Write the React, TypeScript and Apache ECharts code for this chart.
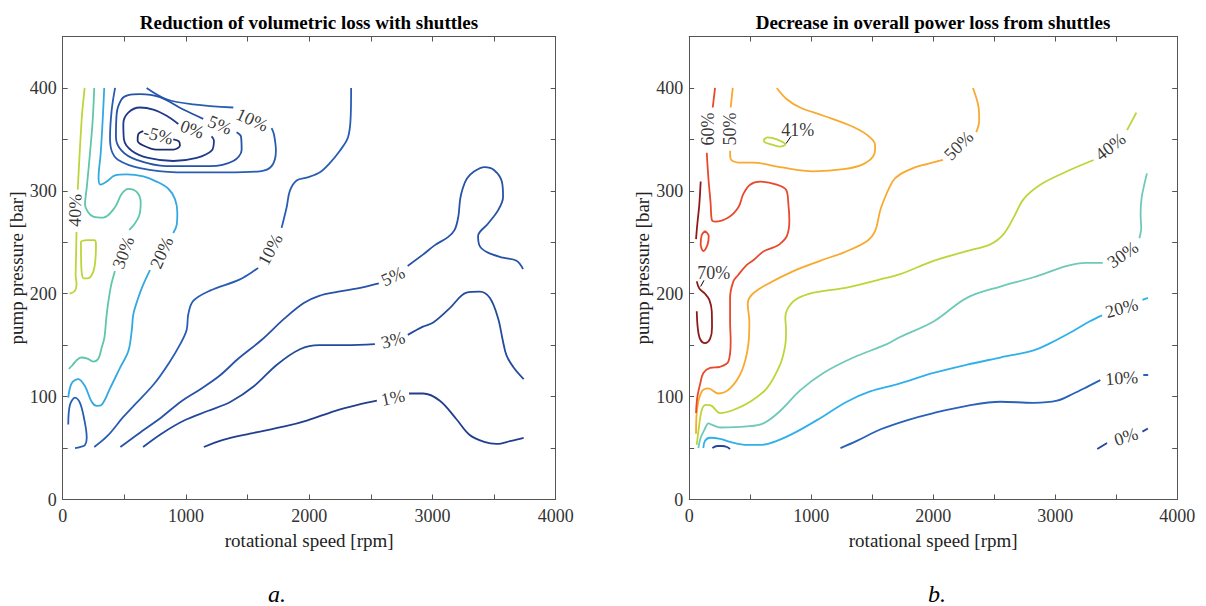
import React, { useEffect, useRef } from "react";
import * as echarts from "echarts";

type Pt = [number, number];
type Seg = Pt[];

const FONT = '"Liberation Serif", "Times New Roman", serif';

// ---------- axis ticks ----------
const xTicks = [0, 1000, 2000, 3000, 4000];
const yTicks = [0, 100, 200, 300, 400];

// ---------- left: reduction of volumetric loss ----------
const vol40: Seg[] = [
  [[178, 400], [167, 387], [156, 373], [137, 335], [122, 301]],
  [[112, 260], [108, 235], [105, 218], [112, 210], [100, 203], [55, 200]],
];
const vol40Loop: Seg[] = [
  [[148, 251], [200, 252], [255, 252], [270, 248], [268, 238], [258, 226], [235, 218], [200, 215], [170, 215], [155, 220], [149, 235], [148, 251]],
];
const vol30: Seg[] = [
  [[256, 400], [243, 368], [221, 336], [195, 303], [181, 287], [208, 279], [248, 275], [329, 274], [424, 284], [478, 297], [532, 302], [600, 299], [633, 289], [621, 276], [578, 267], [540, 262]],
  [[424, 222], [389, 206], [357, 180], [338, 157], [315, 147], [290, 137], [248, 134], [200, 137], [150, 138], [110, 135], [75, 130], [50, 127]],
];
const vol20: Seg[] = [
  [[337, 400], [324, 368], [308, 336], [291, 313], [308, 306], [357, 309], [424, 315], [519, 316], [654, 314], [762, 309], [857, 302], [911, 292], [930, 279], [925, 267], [897, 259]],
  [[708, 223], [654, 209], [613, 196], [573, 180], [560, 164], [532, 144], [465, 128], [384, 108], [316, 92], [276, 91], [235, 95], [181, 110], [127, 117], [73, 113], [45, 99]],
];
const vol10Small: Seg[] = [
  [[45, 73], [59, 92], [100, 99], [140, 94], [173, 79], [195, 60], [181, 53], [140, 51], [100, 50]],
];
const vol10: Seg[] = [
  [[256, 51], [365, 62], [490, 80], [583, 92], [739, 112], [864, 133], [958, 152], [1006, 165], [1019, 180], [1059, 193], [1195, 203], [1438, 214], [1586, 225]],
  [[1776, 264], [1817, 284], [1843, 300], [1898, 310], [1987, 313], [2087, 318], [2160, 326], [2249, 339], [2315, 352], [2337, 373], [2340, 400]],
];
const vol10Top: Seg[] = [
  [[425, 400], [397, 378], [384, 352], [397, 339], [451, 330], [627, 322], [925, 318], [1330, 318], [1600, 319], [1695, 324], [1730, 339], [1714, 355], [1695, 361]],
  [[1384, 381], [1059, 384], [843, 389], [681, 400]],
];
const vol5Loop: Seg[] = [
  [[1411, 357], [1446, 353], [1452, 340], [1384, 329], [1195, 324], [843, 324], [600, 330], [478, 339], [432, 352], [438, 375], [478, 389], [532, 393], [627, 394], [789, 391], [978, 379], [1140, 370]],
];
const vol0Loop: Seg[] = [
  [[1208, 353], [1227, 349], [1208, 339], [1087, 332], [897, 329], [694, 332], [560, 339], [497, 350], [492, 365], [532, 376], [627, 381], [735, 379], [843, 373], [938, 365]],
];
const volM5Loop: Seg[] = [
  [[897, 350], [943, 348], [951, 344], [897, 340], [762, 340], [654, 344], [608, 349], [613, 355], [654, 358]],
];
const vol5: Seg[] = [
  [[468, 51], [615, 64], [802, 80], [958, 95], [1114, 107], [1270, 120], [1426, 137], [1613, 155], [1800, 176], [1956, 191], [2081, 198], [2237, 202], [2424, 206], [2565, 210]],
  [[2799, 227], [2923, 238], [3017, 247], [3126, 255], [3180, 262], [3210, 275], [3225, 292], [3245, 302], [3280, 312], [3340, 319], [3423, 323], [3501, 320], [3563, 309], [3573, 294], [3532, 281], [3450, 268], [3370, 256], [3385, 246], [3450, 240], [3573, 235], [3682, 232], [3735, 224]],
];
const vol3: Seg[] = [
  [[652, 51], [802, 64], [989, 77], [1176, 86], [1363, 95], [1551, 110], [1738, 131], [1925, 146], [2081, 150], [2299, 150], [2533, 151]],
  [[2800, 160], [2923, 168], [3006, 172], [3141, 186], [3276, 201], [3384, 202], [3465, 196], [3533, 176], [3570, 155], [3601, 140], [3660, 128], [3740, 117]],
];
const vol1: Seg[] = [
  [[1145, 51], [1301, 58], [1519, 64], [1800, 71], [1987, 77], [2206, 86], [2393, 92], [2549, 96]],
  [[2810, 103], [2924, 103], [3060, 96], [3195, 78], [3300, 63], [3420, 56], [3520, 54], [3640, 57], [3740, 60]],
];

// ---------- right: decrease in overall power loss ----------
const pow0Small: Seg[] = [[[190, 50], [230, 52], [270, 52], [310, 51], [335, 49]]];
const pow0: Seg[] = [
  [[3345, 49], [3425, 55]],
  [[3715, 66], [3760, 69]],
];
const pow10: Seg[] = [
  [[1240, 50], [1374, 57], [1565, 68], [1784, 77], [2003, 84], [2276, 91], [2550, 95], [2823, 94], [3015, 96], [3151, 103], [3270, 110], [3370, 116]],
  [[3722, 121], [3762, 121]],
];
const pow20: Seg[] = [
  [[116, 50], [130, 57], [171, 60], [253, 59], [335, 56], [472, 53], [581, 53], [718, 57], [882, 66], [1073, 79], [1292, 95], [1483, 105], [1702, 112], [2003, 123], [2276, 131], [2550, 138], [2823, 145], [2960, 152], [3151, 164], [3280, 173], [3384, 179]],
  [[3715, 194], [3760, 196]],
];
const pow30: Seg[] = [
  [[75, 50], [94, 60], [130, 69], [157, 74], [198, 72], [253, 70], [472, 71], [608, 74], [745, 86], [909, 106], [1100, 123], [1346, 138], [1620, 151], [1729, 158], [2003, 173], [2276, 196], [2550, 207], [2823, 216], [3097, 227], [3250, 230], [3390, 230]],
  [[3690, 254], [3705, 264], [3700, 277], [3708, 293], [3730, 306], [3752, 317]],
];
const pow40: Seg[] = [
  [[62, 53], [75, 66], [103, 87], [138, 92], [185, 91], [253, 84], [362, 87], [499, 95], [636, 108], [745, 131], [786, 149], [794, 164], [788, 177], [805, 185], [868, 194], [1018, 201], [1292, 206], [1565, 214], [1729, 219], [2003, 232], [2276, 241.5], [2468, 248], [2577, 258], [2659, 274], [2741, 292], [2878, 306], [3097, 319], [3315, 330]],
  [[3589, 359], [3665, 376]],
];
const pow41: Seg[] = [[[608, 349], [641, 352], [718, 350], [788, 345], [745, 343], [677, 345], [622, 347], [608, 349]]];
const pow50: Seg[] = [
  [[56, 64], [66, 89], [103, 105], [157, 108], [239, 103], [335, 108], [431, 125], [485, 151], [493, 173], [480, 190], [513, 199], [636, 209], [854, 222], [1073, 232], [1264, 240], [1456, 251], [1524, 261], [1571, 283], [1666, 309], [1729, 316], [1855, 323], [1948, 326], [2080, 330]],
  [[2353, 357], [2377, 368], [2372, 381], [2326, 400]],
];
const pow50Top: Seg[] = [
  [[357, 400], [340, 381]],
  [[335, 339], [340, 331], [403, 327.5], [526, 327.5], [745, 323], [1018, 319], [1264, 321], [1428, 326], [1518, 336], [1524, 344], [1483, 352], [1346, 362], [1100, 373], [909, 381], [800, 389], [718, 400]],
];
const pow60: Seg[] = [
  [[212, 400], [193, 381]],
  [[144, 337], [157, 313], [176, 287], [185, 272], [212, 270], [321, 274], [403, 284], [444, 297], [499, 306], [581, 309], [718, 306], [794, 301], [813, 287], [821, 271], [800, 256], [740, 248], [690, 245], [608, 241], [530, 233], [472, 228], [400, 218], [362, 212], [335, 196], [335, 173], [340, 154], [321, 134], [253, 129], [171, 128], [116, 123], [89, 112], [66, 99], [56, 84]],
];
const pow60Loop: Seg[] = [[[130, 261], [160, 256], [151, 248], [116, 241.5], [94, 248], [103, 257], [130, 261]]];
const pow70: Seg[] = [
  [[94, 309], [83, 287], [66, 267], [56, 253]],
  [[62, 212], [83, 205], [130, 200], [165, 194], [185, 183], [187, 167], [171, 156], [130, 152], [89, 156], [70, 167], [62, 183]],
];
const leader41: Seg = [[794, 346], [835, 353]];
const leader70: Seg = [[94, 207], [121, 213]];

// contour labels: [x, y, text, rotation]
const volLabels: [number, number, string, number][] = [
  [100, 281, "40%", 88],
  [492, 240, "30%", 70],
  [803, 240, "20%", 66],
  [1683, 243, "10%", 62],
  [2680, 217, "5%", 25],
  [2680, 155, "3%", 15],
  [2680, 99, "1%", 12],
  [1538, 369, "10%", -24],
  [1276, 364, "5%", -22],
  [1051, 360, "0%", -20],
  [775, 354, "-5%", -15],
];
const powLabels: [number, number, string, number][] = [
  [157, 360, "60%", 90],
  [335, 360, "50%", 90],
  [890, 359, "41%", 0],
  [201, 220, "70%", 0],
  [2208, 344, "50%", 45],
  [3452, 343, "40%", 38],
  [3555, 238, "30%", 35],
  [3545, 186, "20%", 15],
  [3545, 118, "10%", 4],
  [3580, 61, "0%", 18],
];

const C = {
  m5: "#1d2d6e",
  n0: "#21398a",
  p1: "#223f8f",
  p3: "#244a9e",
  p5: "#2652a8",
  p10: "#285db3",
  p20: "#32a9e0",
  p30: "#5ec6aa",
  p40: "#bcd63a",
  p50: "#f8a92e",
  p60: "#e8492c",
  p70: "#8e1a1a",
  r0: "#25449b",
  r10: "#2860ba",
  r20: "#30b0ea",
  r30: "#6fc9b8",
};

const leftContours: { color: string; segs: Seg[] }[] = [
  { color: C.p40, segs: vol40 },
  { color: C.p40, segs: vol40Loop },
  { color: C.p30, segs: vol30 },
  { color: C.p20, segs: vol20 },
  { color: C.p10, segs: vol10Small },
  { color: C.p10, segs: vol10 },
  { color: C.p10, segs: vol10Top },
  { color: C.p5, segs: vol5Loop },
  { color: C.n0, segs: vol0Loop },
  { color: C.m5, segs: volM5Loop },
  { color: C.p5, segs: vol5 },
  { color: C.p3, segs: vol3 },
  { color: C.p1, segs: vol1 },
];
const rightContours: { color: string; segs: Seg[] }[] = [
  { color: C.r0, segs: pow0Small },
  { color: C.r0, segs: pow0 },
  { color: C.r10, segs: pow10 },
  { color: C.r20, segs: pow20 },
  { color: C.r30, segs: pow30 },
  { color: C.p40, segs: pow40 },
  { color: C.p40, segs: pow41 },
  { color: C.p50, segs: pow50 },
  { color: C.p50, segs: pow50Top },
  { color: C.p60, segs: pow60 },
  { color: C.p60, segs: pow60Loop },
  { color: C.p70, segs: pow70 },
];

function lineSeries(contours: { color: string; segs: Seg[] }[], gi: number) {
  const out: any[] = [];
  contours.forEach((c) =>
    c.segs.forEach((s) =>
      out.push({
        type: "line",
        xAxisIndex: gi * 2,
        yAxisIndex: gi * 2,
        data: s,
        smooth: s.length > 2 ? 0.35 : false,
        symbol: "none",
        silent: true,
        lineStyle: { color: c.color, width: 1.8 },
        z: 2,
      })
    )
  );
  return out;
}

function labelSeries(labels: [number, number, string, number][], gi: number) {
  return {
    type: "scatter",
    xAxisIndex: gi * 2,
    yAxisIndex: gi * 2,
    symbolSize: 1,
    itemStyle: { color: "rgba(0,0,0,0)" },
    silent: true,
    z: 5,
    data: labels.map(([x, y, t, r]) => ({
      value: [x, y],
      name: t,
      label: { rotate: r },
    })),
    label: {
      show: true,
      position: "inside",
      formatter: "{b}",
      fontFamily: FONT,
      fontSize: 18,
      color: "#000",
    },
  };
}

function axes(gi: number) {
  const axisLine = { show: true, onZero: false, lineStyle: { color: "#555", width: 1 } };
  const tick = { show: true, inside: true, length: 5, lineStyle: { color: "#555" } };
  const xBase = {
    gridIndex: gi,
    type: "value",
    min: 0,
    max: 4000,
    interval: 500,
    splitLine: { show: false },
    axisLine,
    axisTick: tick,
  };
  const yBase = {
    gridIndex: gi,
    type: "value",
    min: 0,
    max: 450,
    interval: 50,
    splitLine: { show: false },
    axisLine,
    axisTick: tick,
  };
  return {
    x: [
      {
        ...xBase,
        position: "bottom",
        name: "rotational speed [rpm]",
        nameLocation: "middle",
        nameGap: 31,
        nameTextStyle: { fontFamily: FONT, fontSize: 19, color: "#222" },
        axisLabel: {
          fontFamily: FONT,
          fontSize: 18,
          color: "#333",
          margin: 7,
          formatter: (v: number) => (xTicks.includes(v) ? String(v) : ""),
        },
      },
      { ...xBase, position: "top", axisLabel: { show: false } },
    ],
    y: [
      {
        ...yBase,
        position: "left",
        name: "pump pressure [bar]",
        nameLocation: "middle",
        nameGap: 35,
        nameTextStyle: { fontFamily: FONT, fontSize: 19, color: "#222" },
        axisLabel: {
          fontFamily: FONT,
          fontSize: 18,
          color: "#333",
          margin: 6,
          formatter: (v: number) => (yTicks.includes(v) ? String(v) : ""),
        },
      },
      { ...yBase, position: "right", axisLabel: { show: false } },
    ],
  };
}

export default function App() {
  const ref = useRef<HTMLDivElement>(null);
  useEffect(() => {
    if (!ref.current) return;
    const chart = echarts.init(ref.current, null, { renderer: "svg" });
    const a0 = axes(0);
    const a1 = axes(1);
    const option: any = {
      animation: false,
      backgroundColor: "#fff",
      grid: [
        { left: 62.7, top: 36.5, width: 493, height: 463 },
        { left: 689.2, top: 36.5, width: 488, height: 463 },
      ],
      xAxis: [...a0.x, ...a1.x],
      yAxis: [...a0.y, ...a1.y],
      graphic: [
        {
          type: "text",
          x: 309,
          y: 22,
          style: {
            text: "Reduction of volumetric loss with shuttles",
            font: `bold 19px ${FONT}`,
            fill: "#000",
            textAlign: "center",
            textVerticalAlign: "middle",
          },
        },
        {
          type: "text",
          x: 933,
          y: 22,
          style: {
            text: "Decrease in overall power loss from shuttles",
            font: `bold 19px ${FONT}`,
            fill: "#000",
            textAlign: "center",
            textVerticalAlign: "middle",
          },
        },
        {
          type: "text",
          x: 277,
          y: 594,
          style: { text: "a.", font: `italic 24px ${FONT}`, fill: "#000", textAlign: "center", textVerticalAlign: "middle" },
        },
        {
          type: "text",
          x: 937,
          y: 594,
          style: { text: "b.", font: `italic 24px ${FONT}`, fill: "#000", textAlign: "center", textVerticalAlign: "middle" },
        },
      ],
      series: [
        ...lineSeries(leftContours, 0),
        ...lineSeries(rightContours, 1),
        {
          type: "line",
          xAxisIndex: 2,
          yAxisIndex: 2,
          data: leader41,
          symbol: "none",
          silent: true,
          lineStyle: { color: "#000", width: 1 },
        },
        {
          type: "line",
          xAxisIndex: 2,
          yAxisIndex: 2,
          data: leader70,
          symbol: "none",
          silent: true,
          lineStyle: { color: "#000", width: 1 },
        },
        labelSeries(volLabels, 0),
        labelSeries(powLabels, 1),
      ],
    };
    chart.setOption(option);
    return () => chart.dispose();
  }, []);
  return (
    <div
      ref={ref}
      style={{ position: "fixed", left: 0, top: 0, width: 1206, height: 606, background: "#fff" }}
    />
  );
}
